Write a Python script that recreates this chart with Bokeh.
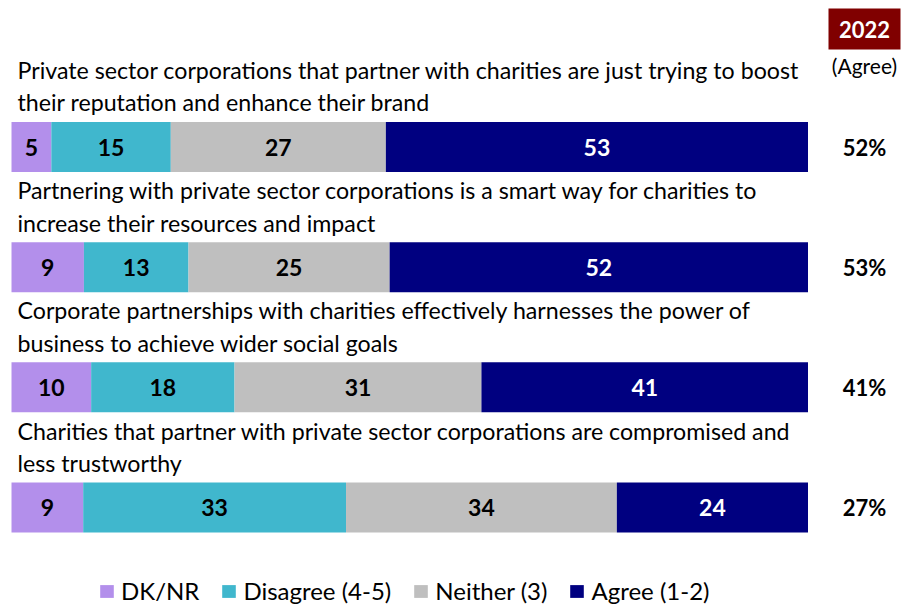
from bokeh.plotting import figure
from bokeh.models import Range1d, ColumnDataSource, Legend, LegendItem
from bokeh.core.properties import value
from bokeh.embed import file_html
from bokeh.resources import INLINE

# ---------------- data ----------------
statements = [
    "Private sector corporations that partner with charities are just trying to boost\ntheir reputation and enhance their brand",
    "Partnering with private sector corporations is a smart way for charities to\nincrease their resources and impact",
    "Corporate partnerships with charities effectively harnesses the power of\nbusiness to achieve wider social goals",
    "Charities that partner with private sector corporations are compromised and\nless trustworthy",
]
series_names = ["DK/NR", "Disagree (4-5)", "Neither (3)", "Agree (1-2)"]
dk_nr = [5, 9, 10, 9]
disagree = [15, 13, 18, 33]
neither = [27, 25, 31, 34]
agree = [53, 52, 41, 24]
agree_2022 = [52, 53, 41, 27]
year_label = "2022"
year_sub = "(Agree)"

colors = ["#B38FEB", "#40B7CD", "#BFBFBF", "#000080"]
label_colors = ["black", "black", "black", "white"]
YEAR_BOX = "#800000"
FONT = "Lato"

# ---------------- layout constants (canvas px) ----------------
W, H = 901, 607
X0_PX, X100_PX = 11, 807.5       # canvas px of 0% and 100%
PX = (X100_PX - X0_PX) / 100.0   # px per percent
ROW0, ROW_STEP, BAR_H = 146.5, 120.17, 50

p = figure(width=W, height=H, output_backend="svg", toolbar_location=None,
           x_range=Range1d(-X0_PX / PX, 100 + (W - X100_PX) / PX),
           y_range=Range1d(H, 0), min_border=0)
p.axis.visible = False
p.grid.visible = False
p.outline_line_color = None
p.background_fill_color = "white"
p.border_fill_color = "white"

n = len(statements)
rows_y = [ROW0 + ROW_STEP * i for i in range(n)]
series = [dk_nr, disagree, neither, agree]
totals = [sum(s[i] for s in series) for i in range(n)]

renderers = []
left = [0.0] * n
for k, vals in enumerate(series):
    share = [vals[i] / totals[i] * 100 for i in range(n)]
    right = [left[i] + share[i] for i in range(n)]
    src = ColumnDataSource(dict(y=rows_y, left=list(left), right=right,
                                mid=[(left[i] + right[i]) / 2 for i in range(n)],
                                lab=[str(v) for v in vals]))
    r = p.hbar(y="y", left="left", right="right", height=BAR_H, source=src,
               fill_color=colors[k], line_color=None)
    renderers.append(r)
    p.text(x="mid", y="y", text="lab", source=src, text_align="center",
           text_baseline="middle", text_font=value(FONT), text_font_style="bold",
           text_font_size="23px", text_color=label_colors[k])
    left = right

# statements
st_src = ColumnDataSource(dict(x=[0] * n, y=rows_y, t=statements))
p.text(x="x", y="y", text="t", source=st_src, x_offset=6, y_offset=-91,
       text_align="left", text_baseline="top", text_font=value(FONT),
       text_font_size="23.2px", text_color="black", text_line_height=1.16)

# right column: agree 2022
COL_OFF = 56.5
pc_src = ColumnDataSource(dict(x=[100] * n, y=rows_y, t=[f"{v}%" for v in agree_2022]))
p.text(x="x", y="y", text="t", source=pc_src, x_offset=COL_OFF, text_align="center",
       text_baseline="middle", text_font=value(FONT), text_font_style="bold",
       text_font_size="22px", text_color="black")

col_x = 100 + COL_OFF / PX
p.rect(x=[col_x], y=[28.5], width=72, height=41, width_units="screen",
       height_units="screen", fill_color=YEAR_BOX, line_color=None)
p.text(x=[col_x], y=[29], text=[year_label], text_align="center", text_baseline="middle",
       text_font=value(FONT), text_font_style="bold", text_font_size="22px",
       text_color="white")
p.text(x=[col_x], y=[65], text=[year_sub], text_align="center", text_baseline="middle",
       text_font=value(FONT), text_font_size="21px", text_color="black")

legend = Legend(items=[LegendItem(label=series_names[k], renderers=[renderers[k]])
                       for k in range(4)],
                orientation="horizontal", location=(98, 2),
                label_text_font=FONT, label_text_font_size="24px",
                label_text_color="black", glyph_width=17, glyph_height=16,
                label_standoff=6, spacing=21, padding=0, margin=0,
                border_line_color=None, background_fill_alpha=0)
p.add_layout(legend, "center")

open("out.html", "w").write(file_html(p, INLINE))
